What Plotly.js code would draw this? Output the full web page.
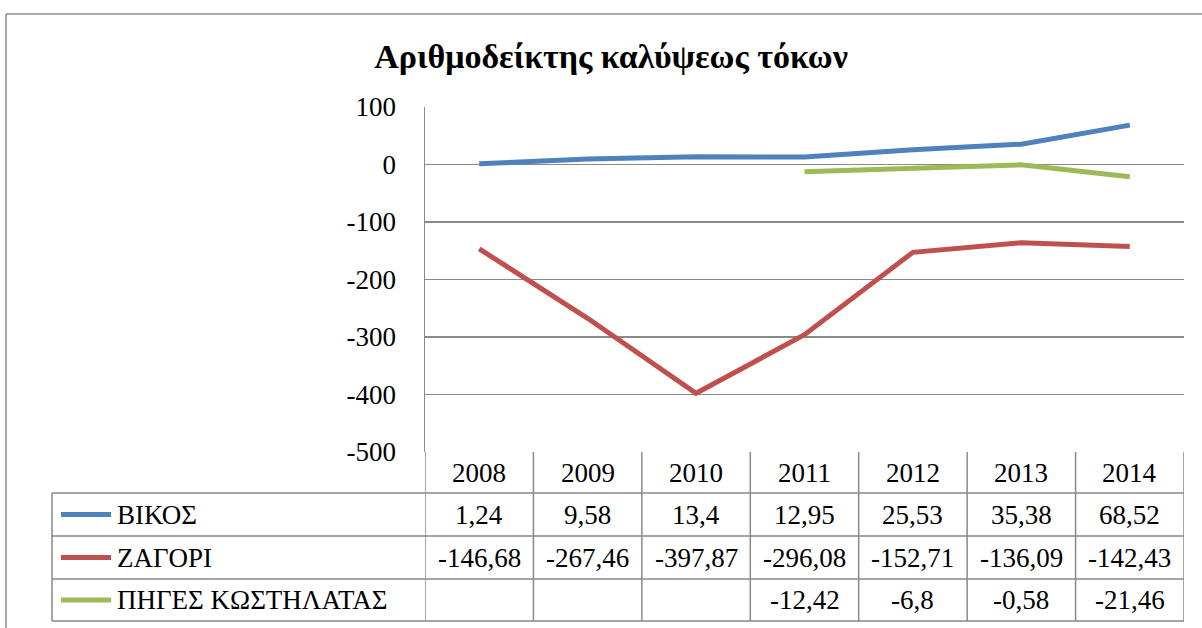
<!DOCTYPE html>
<html>
<head>
<meta charset="utf-8">
<script src="https://cdn.plot.ly/plotly-3.0.1.min.js"></script>
<style>html,body{margin:0;padding:0;background:#fff;}#chart{width:1202px;height:628px;}</style>
</head>
<body>
<div id="chart"></div>
<script>
const years = ['2008','2009','2010','2011','2012','2013','2014'];
const seriesNames = ['ΒΙΚΟΣ','ΖΑΓΟΡΙ','ΠΗΓΕΣ ΚΩΣΤΗΛΑΤΑΣ'];
const vikos = [1.24, 9.58, 13.4, 12.95, 25.53, 35.38, 68.52];
const zagori = [-146.68, -267.46, -397.87, -296.08, -152.71, -136.09, -142.43];
const piges = [null, null, null, -12.42, -6.8, -0.58, -21.46];
const yTickVals = [100, 0, -100, -200, -300, -400, -500];
const yTickText = ['100', '0', '-100', '-200', '-300', '-400', '-500'];
const colors = ['#4F81BD', '#C0504D', '#9BBB59'];
const titleText = 'Αριθμοδείκτης καλύψεως τόκων';

const allSeries = [vikos, zagori, piges];
const xIdx = years.map((_, i) => i);

// layout geometry (pixels)
const W = 1202, H = 628;
const PL = 425, PR = 1184, PT = 107, PB = 452;
const px = p => (p - PL) / (PR - PL);
const py = p => (PB - p) / (PB - PT);
const rowLines = [493, 536, 579, 621];
const rowCenters = [514.5, 557.5, 600];
const yearCenter = 473;
const tableLeft = 52;
const gridCol = '#898989';
const font = 'Liberation Serif';
const fs = 27;

const traces = allSeries.map((vals, k) => ({
  type: 'scatter', mode: 'lines', x: xIdx, y: vals, name: seriesNames[k],
  line: {color: colors[k], width: 5}, connectgaps: false, hoverinfo: 'skip'
}));

const fmt = v => (v === null ? '' : String(v).replace('.', ','));

const shapes = [];
const annotations = [];
// outer chart border
shapes.push({type: 'line', xref: 'paper', yref: 'paper', x0: px(6), x1: px(6), y0: py(14), y1: py(640), line: {color: '#8c8c8c', width: 1.5}});
shapes.push({type: 'line', xref: 'paper', yref: 'paper', x0: px(6), x1: px(1210), y0: py(14), y1: py(14), line: {color: '#8c8c8c', width: 1.5}});
// table horizontal lines
rowLines.forEach(r => shapes.push({type: 'line', xref: 'paper', yref: 'paper', x0: px(tableLeft), x1: 1, y0: py(r), y1: py(r), line: {color: gridCol, width: 1.5}}));
// table left edge
shapes.push({type: 'line', xref: 'paper', yref: 'paper', x0: px(tableLeft), x1: px(tableLeft), y0: py(rowLines[0]), y1: py(rowLines[3]), line: {color: gridCol, width: 1.5}});
// column separators (via x scale)
for (let i = 0; i <= years.length; i++) {
  shapes.push({type: 'line', xref: 'x', yref: 'paper', x0: i - 0.5, x1: i - 0.5, y0: 0, y1: py(rowLines[3]), line: {color: gridCol, width: 1.5}});
}
// year labels
years.forEach((yr, i) => annotations.push({xref: 'x', yref: 'paper', x: i, y: py(yearCenter), text: yr, showarrow: false, xanchor: 'center', yanchor: 'middle', font: {family: font, size: fs, color: '#000'}}));
// series rows
allSeries.forEach((vals, k) => {
  const yc = py(rowCenters[k]);
  shapes.push({type: 'line', xref: 'paper', yref: 'paper', x0: px(61), x1: px(111), y0: yc, y1: yc, line: {color: colors[k], width: 5}});
  annotations.push({xref: 'paper', yref: 'paper', x: px(115), y: yc, text: seriesNames[k], showarrow: false, xanchor: 'left', yanchor: 'middle', font: {family: font, size: fs, color: '#000'}});
  vals.forEach((v, i) => {
    if (v === null) return;
    annotations.push({xref: 'x', yref: 'paper', x: i, y: yc, text: fmt(v), showarrow: false, xanchor: 'center', yanchor: 'middle', font: {family: font, size: fs, color: '#000'}});
  });
});

const layout = {
  width: W, height: H,
  margin: {l: PL, r: W - PR, t: PT, b: H - PB, pad: 0},
  paper_bgcolor: '#fff', plot_bgcolor: '#fff',
  showlegend: false,
  title: {text: '<b>' + titleText + '</b>', xref: 'container', yref: 'container', x: 611 / W, y: 1 - 56 / H, xanchor: 'center', yanchor: 'middle', font: {family: font, size: 34, color: '#000'}},
  xaxis: {range: [-0.5, 6.5], showticklabels: false, showgrid: false, zeroline: false, showline: false, ticks: '', fixedrange: true},
  yaxis: {range: [-500, 100], tickvals: yTickVals, ticktext: yTickText, showgrid: true, gridcolor: gridCol, gridwidth: 1.5, zeroline: false, showline: true, linecolor: gridCol, linewidth: 1.5, ticks: '', ticklabelstandoff: 22, tickfont: {family: font, size: fs, color: '#000'}, fixedrange: true},
  shapes: shapes,
  annotations: annotations
};

Plotly.newPlot('chart', traces, layout, {displayModeBar: false, staticPlot: true});
</script>
</body>
</html>
